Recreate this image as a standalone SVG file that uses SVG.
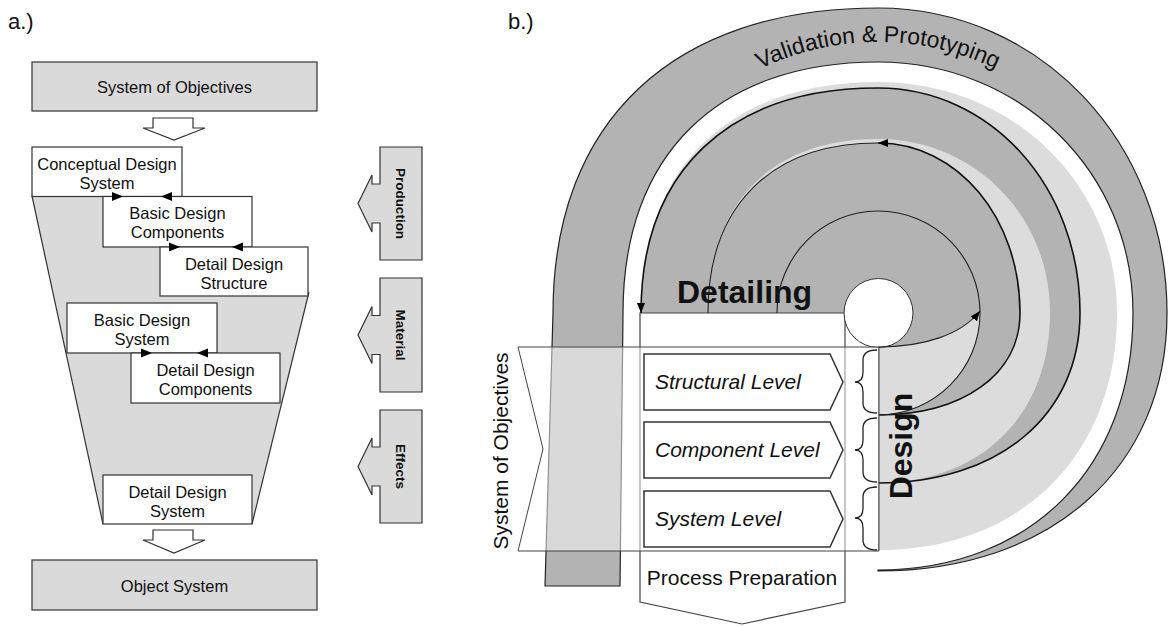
<svg xmlns="http://www.w3.org/2000/svg" width="1168" height="626" viewBox="0 0 1168 626">
<defs>
<style>
text { font-family: "Liberation Sans", Arial, sans-serif; fill:#111; }
.box { fill:#fff; stroke:#333; stroke-width:1.2; }
.gbox { fill:#dadada; stroke:#333; stroke-width:1.2; }
.lbl { font-size:16.5px; text-anchor:middle; }
.side { font-size:13.5px; font-weight:bold; text-anchor:middle; }
.tri { fill:#000; }
.dark { fill:#b3b3b3; }
.light { fill:#dcdcdc; }
.curve { fill:none; stroke:#111; stroke-width:1.6; }
.thin { fill:none; stroke:#222; stroke-width:1.1; }
.lvl { fill:#fff; stroke:#333; stroke-width:1.5; }
.lvlt { font-size:21px; font-style:italic; }
.brace { fill:none; stroke:#222; stroke-width:1.3; }
.big { font-size:32px; font-weight:bold; }
</style>
<marker id="ah" viewBox="0 0 10 8" refX="10" refY="4" markerWidth="10" markerHeight="8" markerUnits="userSpaceOnUse" orient="auto"><path d="M0,0 L10,4 L0,8 Z" fill="#000"/></marker>
<path id="vp" d="M 607,313 A 271 271 0 0 1 1149,313"/>
</defs>
<rect width="1168" height="626" fill="#fff"/>

<!-- ===== a.) ===== -->
<text x="8" y="29" font-size="22">a.)</text>

<g id="a-funnel">
<polygon points="32,196 252,196 252,247 308,247 308,296 252,524 103,524" fill="#dadada"/>
<line x1="32" y1="196" x2="103" y2="524" stroke="#333" stroke-width="1.2"/>
<line x1="309" y1="292" x2="252" y2="524" stroke="#333" stroke-width="1.2"/>
</g>

<g id="a-objectives">
<rect class="gbox" x="32" y="62" width="285" height="49"/>
<text class="lbl" x="174.5" y="93">System of Objectives</text>
</g>
<g id="a-conceptual">
<rect class="box" x="32" y="147" width="150" height="49.5"/>
<text class="lbl" x="107" y="170">Conceptual Design</text>
<text class="lbl" x="107" y="189">System</text>
</g>
<g id="a-basic-components">
<rect class="box" x="103" y="196.5" width="149" height="50.5"/>
<text class="lbl" x="177.5" y="219">Basic Design</text>
<text class="lbl" x="177.5" y="238">Components</text>
</g>
<g id="a-detail-structure">
<rect class="box" x="160" y="247" width="148" height="49"/>
<text class="lbl" x="234" y="270">Detail Design</text>
<text class="lbl" x="234" y="289">Structure</text>
</g>
<g id="a-basic-system">
<rect class="box" x="67" y="303" width="150" height="50"/>
<text class="lbl" x="142" y="326">Basic Design</text>
<text class="lbl" x="142" y="345">System</text>
</g>
<g id="a-detail-components">
<rect class="box" x="131" y="353" width="149" height="50"/>
<text class="lbl" x="205.5" y="376">Detail Design</text>
<text class="lbl" x="205.5" y="395">Components</text>
</g>
<g id="a-detail-system">
<rect class="box" x="103" y="475" width="149" height="49"/>
<text class="lbl" x="177.5" y="498">Detail Design</text>
<text class="lbl" x="177.5" y="517">System</text>
</g>
<g id="a-object-system">
<rect class="gbox" x="32" y="560" width="285" height="50"/>
<text class="lbl" x="174.5" y="592">Object System</text>
</g>

<g id="a-production">
<path class="gbox" d="M380,147 L422,147 L422,260 L380,260 L380,223 L372,223 L372,232 L358,203.5 L372,175 L372,184 L380,184 Z"/>
<text class="side" transform="translate(396,203.5) rotate(90)">Production</text>
</g>
<g id="a-material">
<path class="gbox" d="M380,278 L422,278 L422,392 L380,392 L380,354.5 L372,354.5 L372,363.5 L358,335 L372,306.5 L372,315.5 L380,315.5 Z"/>
<text class="side" transform="translate(396,335) rotate(90)">Material</text>
</g>
<g id="a-effects">
<path class="gbox" d="M380,410 L422,410 L422,523 L380,523 L380,486 L372,486 L372,495 L358,466.5 L372,438 L372,447 L380,447 Z"/>
<text class="side" transform="translate(396,466.5) rotate(90)">Effects</text>
</g>

<g id="a-connectors">
<polygon points="153,118 193,118 193,128 205,128 174,140 143,128 153,128" fill="#fff" stroke="#333" stroke-width="1.2"/>
<polygon points="153,530 193,530 193,540 205,540 174,553 143,540 153,540" fill="#fff" stroke="#333" stroke-width="1.2"/>
<polygon class="tri" points="112,192 123,196.5 112,201"/>
<polygon class="tri" points="172,192 161,196.5 172,201"/>
<polygon class="tri" points="169,242.5 180,247 169,251.5"/>
<polygon class="tri" points="243,242.5 232,247 243,251.5"/>
<polygon class="tri" points="141,348.5 152,353 141,357.5"/>
<polygon class="tri" points="208,348.5 197,353 208,357.5"/>
</g>

<!-- ===== b.) ===== -->
<text x="508" y="29" font-size="22">b.)</text>

<g id="b-validation">
<path class="dark" stroke="#222" stroke-width="1.2" d="M 545,586 L 553,313 C 553,120.85 673.25,8 878,8 C 1039.8,8 1167,142.2 1167,313 C 1167,467.8 1051.4,571 878,571 L 878,570 C 1031,570 1133,467.2 1133,313 C 1133,172.44 1020.8,62 878,62 C 717.35,62 623,154.87 623,313 L 620,586 Z"/>
<text font-size="23"><textPath href="#vp" startOffset="50%" text-anchor="middle">Validation &amp; Prototyping</textPath></text>
</g>

<g id="b-spiral">
<path class="light" d="M 878,550 C 1021.4,550 1117,455.2 1117,313 C 1117,183.64 1011.84,82 878,82 C 728.69,82 641,167.47 641,313 L 878,313 Z"/>
<path class="dark" d="M 878,483 C 999.2,483 1080,415 1080,313 C 1080,187 991.12,88 878,88 C 728.69,88 641,171.25 641,313 L 878,313 Z"/>
<path class="light" d="M 878,483 C 981.2,483 1050,415 1050,313 C 1050,215.56 974.32,139 878,139 C 770.9,139 708,203.38 708,313 L 878,313 Z"/>
<path class="dark" d="M 878,415 C 963.2,415 1020,374.2 1020,313 C 1020,217.8 957.52,143 878,143 C 770.9,143 708,205.9 708,313 L 878,313 Z"/>
<path class="light" d="M 878,313 L 878,415 C 934.3,415 980,369.3 980,313 Z"/>
<path class="dark" d="M 878,313 L 878,347 C 925,347 962,334 980,311 L 980,313 Z"/>
</g>

<g id="b-process">
<path fill="#fff" stroke="#444" stroke-width="1.2" d="M 640,313 L 845,313 L 845,602 L 742,624 L 640,602 Z"/>
<text x="742" y="585" font-size="21" text-anchor="middle">Process Preparation</text>
</g>

<g id="b-core">
<circle cx="878.5" cy="313" r="34.5" fill="#fff" stroke="#333" stroke-width="1"/>
</g>

<g id="b-connectors">
<path class="curve" marker-end="url(#ah)" d="M 878,483 C 999.2,483 1080,415 1080,313 C 1080,187 991.12,88 878,88 C 728.69,88 641,171.25 641,313"/>
<path class="curve" marker-end="url(#ah)" d="M 878,415 C 963.2,415 1020,374.2 1020,313 C 1020,217.8 957.52,143 878,143"/>
<path class="thin" d="M 878,143 C 770.9,143 708,205.9 708,313"/>
<path class="thin" d="M 878,415 C 934.3,415 980,369.3 980,313 C 980,256.7 934.3,211 878,211 C 822.2,211 777,256.7 777,313"/>
<path class="thin" stroke-width="1.4" marker-end="url(#ah)" d="M 878,347 C 925,347 962,334 980,311"/>
<line x1="878.5" y1="347" x2="878.5" y2="551" stroke="#444" stroke-width="1"/>
</g>

<text class="big" x="677" y="303">Detailing</text>
<text class="big" text-anchor="middle" transform="translate(912,446) rotate(-90)">Design</text>

<g id="b-objectives">
<path fill="#fff" fill-opacity="0.5" stroke="#444" stroke-width="1" d="M 518,347 L 879,347 L 879,551 L 518,551 L 543,449 Z"/>
<text font-size="21" text-anchor="middle" transform="translate(508,451) rotate(-90)">System of Objectives</text>
</g>

<g id="b-structural">
<path class="lvl" d="M 644,354 L 830,354 L 843,382 L 830,410 L 644,410 Z"/>
<text class="lvlt" x="655" y="389">Structural Level</text>
</g>
<g id="b-component">
<path class="lvl" d="M 644,422 L 830,422 L 843,450 L 830,478 L 644,478 Z"/>
<text class="lvlt" x="655" y="457">Component Level</text>
</g>
<g id="b-system">
<path class="lvl" d="M 644,491 L 830,491 L 843,519 L 830,547 L 644,547 Z"/>
<text class="lvlt" x="655" y="526">System Level</text>
</g>

<g id="b-braces">
<path class="brace" d="M 877,350 Q 863,350 863,360 L 863,372 Q 863,382 855,382 Q 863,382 863,392 L 863,403 Q 863,413 877,413"/>
<path class="brace" d="M 877,418 Q 863,418 863,428 L 863,440 Q 863,450 855,450 Q 863,450 863,460 L 863,472 Q 863,482 877,482"/>
<path class="brace" d="M 877,487 Q 863,487 863,497 L 863,508 Q 863,518 855,518 Q 863,518 863,528 L 863,540 Q 863,550 877,550"/>
</g>
</svg>
